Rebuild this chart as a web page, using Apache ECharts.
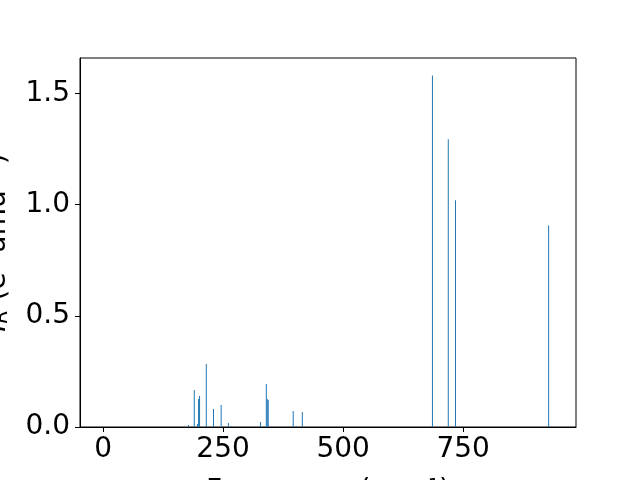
<!DOCTYPE html>
<html>
<head>
<meta charset="utf-8">
<script src="https://cdn.jsdelivr.net/npm/echarts@6/dist/echarts.min.js"></script>
<style>html,body{margin:0;padding:0;background:#fff}#c{width:640px;height:480px}</style>
</head>
<body>
<div id="c"></div>
<script>
const frequencies = [178, 190, 197, 199, 201, 215, 230, 246, 261, 267, 328, 340, 342, 344, 396, 403, 415, 686, 719, 734, 928];
const intensities = [0.009, 0.166, 0.013, 0.126, 0.139, 0.283, 0.081, 0.099, 0.018, 0.005, 0.022, 0.193, 0.126, 0.121, 0.072, 0.005, 0.067, 1.581, 1.294, 1.020, 0.907];
const xTicks = [0, 250, 500, 750];
const yTicks = [0, 0.5, 1.0, 1.5];

const chart = echarts.init(document.getElementById('c'), null, {renderer: 'canvas'});
const font = 'DejaVu Sans';
chart.setOption({
  animation: false,
  backgroundColor: '#fff',
  grid: {left: 80, right: 64, top: 58, bottom: 53, containLabel: false, outerBoundsMode: 'none',
    show: true, borderColor: '#000', borderWidth: 1, backgroundColor: 'transparent'},
  xAxis: {
    type: 'value', min: -48, max: 985,
    name: 'Frequency (cm⁻¹)', nameLocation: 'middle', nameGap: 51,
    nameTextStyle: {fontFamily: font, fontSize: 28, color: '#000'},
    axisLine: {show: true, onZero: false, lineStyle: {color: '#000', width: 1}},
    axisTick: {show: true, length: 5, lineStyle: {color: '#000'}, customValues: xTicks},
    axisLabel: {margin: 9, fontFamily: font, fontSize: 28, color: '#000', customValues: xTicks},
    splitLine: {show: false}
  },
  yAxis: {
    type: 'value', min: 0, max: 1.66,
    name: '{i|I}{s|R} (e² amu⁻¹)', nameLocation: 'middle', nameGap: 68, nameRotate: 90,
    nameTextStyle: {fontFamily: font, fontSize: 28, color: '#000',
      rich: {i: {fontFamily: font, fontSize: 28, fontStyle: 'italic', color: '#000'},
             s: {fontFamily: font, fontSize: 20, fontStyle: 'italic', color: '#000', padding: [8, 0, 0, 0]}}},
    axisLine: {show: true, onZero: false, lineStyle: {color: '#000', width: 1}},
    axisTick: {show: true, length: 5, lineStyle: {color: '#000'}, customValues: yTicks},
    axisLabel: {margin: 10, fontFamily: font, fontSize: 28, color: '#000', customValues: yTicks,
      formatter: v => v.toFixed(1)},
    splitLine: {show: false}
  },
  series: [{
    type: 'bar',
    barWidth: 1,
    itemStyle: {color: '#1f77b4'},
    data: frequencies.map((f, i) => [f, intensities[i]])
  }]
});
</script>
</body>
</html>
